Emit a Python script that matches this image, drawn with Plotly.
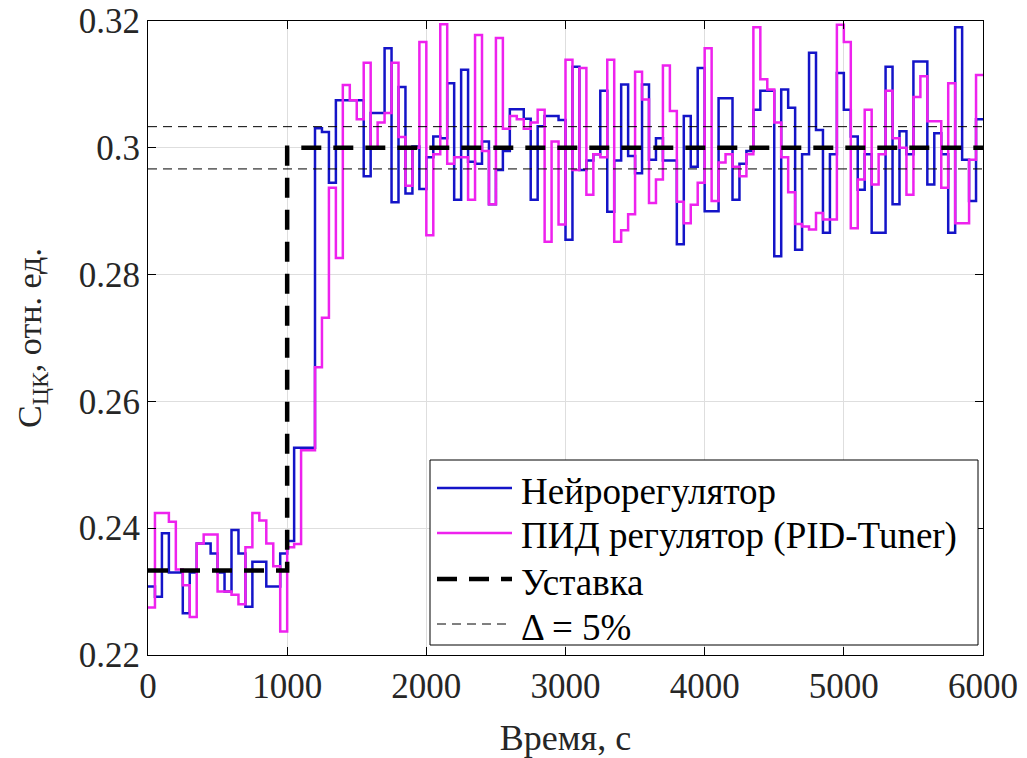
import numpy as np
import plotly.graph_objects as go

# Sampling step of the controller outputs, s
step = 50
t_end = 6000

# Neuro-controller output, one value per 50 s interval (0 ... 6000 s)
neuro = [
    0.2308, 0.2292, 0.2392, 0.2330, 0.2330, 0.2266, 0.2330, 0.2376, 0.2376, 0.2360,
    0.2330, 0.2300, 0.2397, 0.2360, 0.2276, 0.2347, 0.2347, 0.2308, 0.2308, 0.2360,
    0.2380, 0.2527, 0.2527, 0.2527, 0.3031, 0.3025, 0.2945, 0.3075, 0.3075, 0.3075,
    0.3075, 0.2955, 0.3055, 0.3055, 0.3157, 0.2914, 0.3096, 0.2928, 0.3002, 0.2935,
    0.2985, 0.3018, 0.3015, 0.3102, 0.2918, 0.3123, 0.2978, 0.2975, 0.3010, 0.2911,
    0.2965, 0.2995, 0.3061, 0.3061, 0.3046, 0.2918, 0.3034, 0.3050, 0.3050, 0.3044,
    0.2855, 0.3128, 0.2965, 0.2980, 0.2990, 0.3090, 0.2899, 0.2980, 0.3100, 0.2987,
    0.2960, 0.3100, 0.2981, 0.3015, 0.2980, 0.2980, 0.2848, 0.3050, 0.2970, 0.3126,
    0.2900, 0.2900, 0.3078, 0.3078, 0.2918, 0.2975, 0.2995, 0.3060, 0.3090, 0.3090,
    0.2829, 0.3092, 0.3063, 0.2839, 0.2990, 0.3150, 0.3028, 0.2866, 0.2990, 0.3118,
    0.3060, 0.3018, 0.2934, 0.2990, 0.2866, 0.2866, 0.3128, 0.2911, 0.3026, 0.2990,
    0.3136, 0.3136, 0.2942, 0.3023, 0.2990, 0.2866, 0.3190, 0.2981, 0.2916, 0.3045,
]

# PID controller (PID-Tuner) output on the same time grid
pid = [
    0.2275, 0.2424, 0.2424, 0.2410, 0.2335, 0.2310, 0.2260, 0.2376, 0.2390, 0.2390,
    0.2300, 0.2300, 0.2295, 0.2280, 0.2370, 0.2424, 0.2412, 0.2376, 0.2340, 0.2237,
    0.2370, 0.2375, 0.2523, 0.2523, 0.2654, 0.2732, 0.2937, 0.2826, 0.3099, 0.3075,
    0.3045, 0.3134, 0.3000, 0.3040, 0.3055, 0.3134, 0.3017, 0.2940, 0.3000, 0.3167,
    0.2862, 0.2990, 0.3195, 0.2975, 0.2985, 0.2985, 0.2918, 0.3178, 0.2995, 0.2911,
    0.3173, 0.3030, 0.3050, 0.3045, 0.3030, 0.3040, 0.3060, 0.2852, 0.3010, 0.2879,
    0.3139, 0.2965, 0.3126, 0.2926, 0.2990, 0.2985, 0.3139, 0.2852, 0.2870, 0.2895,
    0.3120, 0.3076, 0.2913, 0.2950, 0.3130, 0.3058, 0.2915, 0.2881, 0.2910, 0.2945,
    0.3157, 0.2916, 0.2977, 0.2990, 0.2970, 0.2955, 0.2990, 0.3190, 0.3108, 0.3092,
    0.3040, 0.2985, 0.2930, 0.2880, 0.2876, 0.2871, 0.2897, 0.2887, 0.2887, 0.3194,
    0.3167, 0.2873, 0.2950, 0.3060, 0.2942, 0.2990, 0.3090, 0.3015, 0.3000, 0.2926,
    0.3080, 0.3113, 0.3042, 0.3042, 0.2937, 0.3102, 0.2881, 0.2881, 0.2981, 0.3115,
]

# Setpoint: step from the initial level to 0.3 at t = 1000 s
sp_time = [0, 1000, 1000, 6000]
sp_value = [0.23333, 0.23333, 0.3, 0.3]

# +-5 % band around the new setpoint (5 % of the step size)
band_tol = 0.05 * (0.3 - 0.23333)
band_upper = 0.3 + band_tol
band_lower = 0.3 - band_tol

x_ticks = [0, 1000, 2000, 3000, 4000, 5000, 6000]
y_ticks = [0.22, 0.24, 0.26, 0.28, 0.30, 0.32]
y_tick_text = ["0.22", "0.24", "0.26", "0.28", "0.3", "0.32"]

series_names = ["Нейрорегулятор", "ПИД регулятор (PID-Tuner)", "Уставка", "Δ = 5%"]

t = np.arange(len(neuro) + 1) * step
neuro_y = neuro + [neuro[-1]]
pid_y = pid + [pid[-1]]

FONT = "Liberation Serif, Times New Roman, serif"
TEXT_COLOR = "#262626"
BLUE = "#1414c8"
MAGENTA = "#ee22ee"
SP_DASH = "20px,12px"
BAND_DASH = "9px,6px"

# Figure / plot-area geometry in pixels
W, H = 1027, 758
ML, MR, MT, MB = 148, 44, 21, 103
PW, PH = W - ML - MR, H - MT - MB


def px(x):
    return (x - ML) / PW


def py(y):
    return (H - MB - y) / PH


fig = go.Figure()
fig.add_trace(go.Scatter(
    x=t, y=neuro_y, mode="lines", line_shape="hv",
    line=dict(color=BLUE, width=2.5), name=series_names[0]))
fig.add_trace(go.Scatter(
    x=t, y=pid_y, mode="lines", line_shape="hv",
    line=dict(color=MAGENTA, width=2.5), name=series_names[1]))
fig.add_trace(go.Scatter(
    x=sp_time, y=sp_value, mode="lines",
    line=dict(color="black", width=4.5, dash=SP_DASH), name=series_names[2]))
fig.add_trace(go.Scatter(
    x=[0, t_end, None, 0, t_end],
    y=[band_upper, band_upper, None, band_lower, band_lower],
    mode="lines", line=dict(color="black", width=1, dash=BAND_DASH),
    name=series_names[3]))

axis_common = dict(
    showline=True, linecolor="black", linewidth=1, mirror="ticks",
    ticks="inside", ticklen=8, tickcolor="black",
    showgrid=True, gridcolor="#dedede", gridwidth=1, zeroline=False,
    automargin=False,
    tickfont=dict(family=FONT, size=35, color=TEXT_COLOR),
)

fig.update_xaxes(range=[0, 6000], tickvals=x_ticks,
                 title=dict(text="Время, с", font=dict(family=FONT, size=36, color=TEXT_COLOR),
                            standoff=22),
                 **axis_common)
fig.update_yaxes(range=[0.22, 0.32], tickvals=y_ticks, ticktext=y_tick_text,
                 title=dict(text="C<sub>ЦК</sub>, отн. ед.",
                            font=dict(family=FONT, size=34, color=TEXT_COLOR), standoff=26),
                 **axis_common)

# Boxed legend in the lower right corner of the axes
box = dict(x0=430, x1=978, y0=460, y1=645)
rows_y = [488, 533, 579, 624]
sample_x0, sample_x1, text_x = 437, 512, 519
sample_styles = [
    dict(color=BLUE, width=2.5),
    dict(color=MAGENTA, width=2.5),
    dict(color="black", width=4.5, dash=SP_DASH),
    dict(color="black", width=1, dash=BAND_DASH),
]

shapes = [dict(type="rect", xref="paper", yref="paper",
               x0=px(box["x0"]), x1=px(box["x1"]), y0=py(box["y1"]), y1=py(box["y0"]),
               line=dict(color="black", width=1), fillcolor="white", layer="above")]
annotations = []
for name, yy, style in zip(series_names, rows_y, sample_styles):
    shapes.append(dict(type="line", xref="paper", yref="paper",
                       x0=px(sample_x0), x1=px(sample_x1), y0=py(yy), y1=py(yy),
                       line=style, layer="above"))
    annotations.append(dict(text=name, xref="paper", yref="paper",
                            x=px(text_x), y=py(yy + 3), xanchor="left", yanchor="middle",
                            showarrow=False,
                            font=dict(family=FONT, size=37, color="black")))

fig.update_layout(
    width=W, height=H,
    margin=dict(l=ML, r=MR, t=MT, b=MB),
    paper_bgcolor="white", plot_bgcolor="white",
    showlegend=False,
    shapes=shapes,
    annotations=annotations,
)

fig.write_html("out.html")
